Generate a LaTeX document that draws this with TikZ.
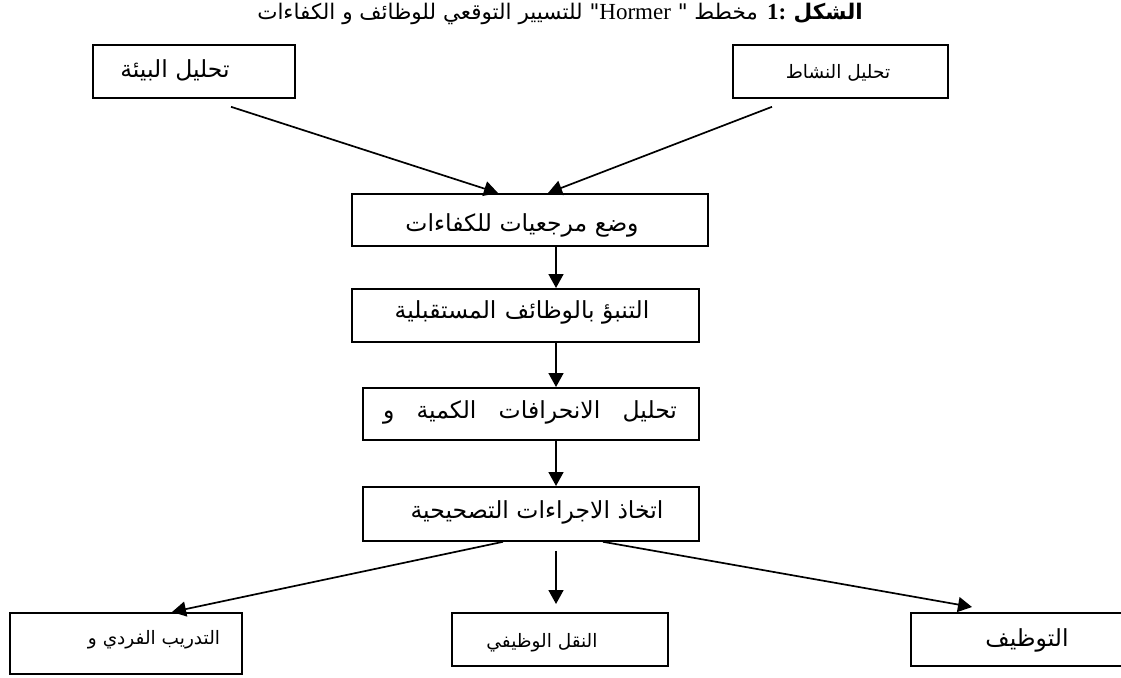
\documentclass[tikz,border=0pt]{standalone}
\usepackage{fontspec}
\setmainfont{Liberation Serif}
\newfontfamily\arab[Script=Arabic]{DejaVu Sans}
\TeXXeTstate=1
\usetikzlibrary{arrows.meta,calc}
\begin{document}
\begin{tikzpicture}[x=1pt,y=-1pt,
  box/.style={draw,line width=1.8pt,inner sep=0pt,anchor=north west},
  lbl/.style={inner sep=0pt,font=\arab\fontsize{23.5}{26}\selectfont},
  small/.style={inner sep=0pt,font=\arab\fontsize{18.5}{22}\selectfont},
  arr/.style={line width=1.7pt,-{Triangle[length=14pt,width=15pt]}}]
\useasboundingbox (0,0) rectangle (1121,677);
% title
\node[inner sep=0pt,font=\arab\fontsize{21.5}{24}\selectfont] (title) at (560,14)
 {\beginR{\bfseries الشكل {\rmfamily\fontsize{23}{24}\selectfont\beginL 1:\endL}} مخطط " \beginL{\rmfamily\fontsize{23}{24}\selectfont Hormer}\endL" للتسيير التوقعي للوظائف و الكفاءات\endR};
% boxes
\node[box,minimum width=202pt,minimum height=53pt] (env) at (92,44) {};
\node[box,minimum width=215pt,minimum height=53pt] (act) at (732,44) {};
\node[box,minimum width=356pt,minimum height=52pt] (ref) at (351,193) {};
\node[box,minimum width=347pt,minimum height=53pt] (pred) at (351,288) {};
\node[box,minimum width=336pt,minimum height=52pt] (dev) at (362,387) {};
\node[box,minimum width=336pt,minimum height=54pt] (corr) at (362,486) {};
\node[box,minimum width=232pt,minimum height=61pt] (train) at (9,612) {};
\node[box,minimum width=216pt,minimum height=53pt] (trans) at (451,612) {};
\node[box,minimum width=240pt,minimum height=53pt] (hire) at (910,612) {};
% texts
\node[lbl] (envt) at (175,70) {\beginR تحليل البيئة\endR};
\node[small] (actt) at (838,73) {\beginR تحليل النشاط\endR};
\node[lbl] (reft) at (522,225) {\beginR وضع مرجعيات للكفاءات\endR};
\node[lbl] (predt) at (522,312) {\beginR التنبؤ بالوظائف\hspace{1pt} المستقبلية\endR};
\node[lbl] (devt) at (530,412) {\hbox to 294pt{\beginR تحليل\hfill الانحرافات\hfill الكمية\hfill و\endR}};
\node[lbl] (corrt) at (537,512) {\beginR اتخاذ الاجراءات التصحيحية\endR};
\node[small] (traint) at (154,640) {\beginR التدريب الفردي و\endR};
\node[small] (transt) at (542,643) {\beginR النقل الوظيفي\endR};
\node[lbl] (hiret) at (1027,640) {\beginR التوظيف\endR};
% arrows
\draw[arr] ($(env.south west)+(139,8)$) -- ($(ref.north west)+(147,0)$);
\draw[arr] ($(act.south west)+(40,8)$) -- ($(ref.north west)+(197,0)$);
\draw[arr] ($(ref.south west)+(205,0)$) -- ($(pred.north west)+(205,0)$);
\draw[arr] ($(pred.south west)+(205,0)$) -- ($(dev.north west)+(194,0)$);
\draw[arr] ($(dev.south west)+(194,0)$) -- ($(corr.north west)+(194,0)$);
\draw[arr] ($(corr.south west)+(141,0)$) -- ($(train.north west)+(163,0)$);
\draw[arr] ($(corr.south west)+(194,9)$) -- ($(trans.north west)+(105,-8)$);
\draw[arr] ($(corr.south west)+(241,0)$) -- ($(hire.north west)+(62,-5)$);
\end{tikzpicture}
\end{document}
